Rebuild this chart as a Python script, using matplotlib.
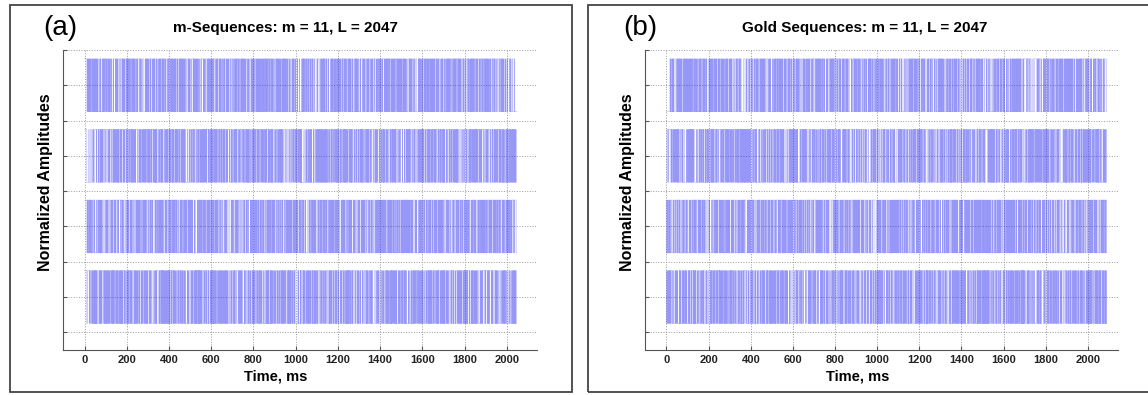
import numpy as np
import matplotlib
matplotlib.use('Agg')
import matplotlib.pyplot as plt
from matplotlib.patches import Rectangle

plt.rcParams['font.family'] = ['Liberation Sans', 'DejaVu Sans']

# sequence parameters
m = 11
L = 2**m - 1
m_taps = [[11, 2], [11, 9], [11, 8, 5, 2], [11, 9, 6, 3]]   # primitive polynomials
gold_pair = [[11, 2], [11, 8, 5, 2]]                         # preferred pair
gold_shifts = [0, 317, 905, 1460]
chip_ms = [1.0, 1.021]
titles = ['m-Sequences: m = 11, L = 2047', 'Gold Sequences: m = 11, L = 2047']
labels = ['(a)', '(b)']
xticks = [0, 200, 400, 600, 800, 1000, 1200, 1400, 1600, 1800, 2000]
offsets = [7, 5, 3, 1]
amp = 0.75

def lfsr(taps, n=m, length=L):
    reg = [1]*n
    out = np.zeros(length, int)
    for i in range(length):
        out[i] = reg[-1]
        fb = 0
        for t in taps:
            fb ^= reg[t-1]
        reg = [fb] + reg[:-1]
    return out

mseq = [lfsr(t) for t in m_taps]
g1 = lfsr(gold_pair[0])
g2 = lfsr(gold_pair[1])
gold = [g1 ^ np.roll(g2, s) for s in gold_shifts]

fig = plt.figure(figsize=(11.48, 3.95), dpi=100)
W, H = 1148., 395.

# outer frames (right one runs off the page)
for x0, x1 in [(10, 572), (588, 1154)]:
    fig.patches.append(Rectangle((x0/W, 1-392/H), (x1-x0)/W, 387/H, transform=fig.transFigure,
                                 fill=False, edgecolor='#444444', linewidth=1.3))

axes_pos = [[63/W, 1-350/H, 474/W, 300/H], [645/W, 1-350/H, 473/W, 300/H]]
label_x = [60, 640]
title_x = [285, 865]

for k, seqs in enumerate([mseq, gold]):
    ax = fig.add_axes(axes_pos[k])
    for s, off in zip(seqs, offsets):
        t = np.arange(L+1)*chip_ms[k]
        y = off + amp*(2*np.append(s, s[-1]) - 1)
        ax.step(t, y, where='post', color='#3030f0', linewidth=0.3, alpha=0.5)
    ax.set_xlim(-102, 2143)
    ax.set_ylim(-0.5, 8)
    ax.set_xticks(xticks)
    ax.set_xticklabels([str(v) for v in xticks], fontsize=8, fontweight='bold', color='#222222')
    ax.set_yticks(range(9))
    ax.set_yticklabels([])
    ax.tick_params(direction='in', length=3, color='#555555')
    ax.grid(True, linestyle=':', color='#999999', linewidth=0.7)
    ax.spines['top'].set_visible(False)
    ax.spines['right'].set_visible(False)
    ax.spines['left'].set_color('#555555')
    ax.spines['bottom'].set_color('#555555')
    ax.set_xlabel('Time, ms', fontsize=10.5, fontweight='bold')
    ax.xaxis.set_label_coords(0.449, -0.065)
    ax.set_ylabel('Normalized Amplitudes', fontsize=11.5, fontweight='bold')
    ax.yaxis.set_label_coords(-0.022, 0.56)
    fig.text(title_x[k]/W, 1-28/H, titles[k], fontsize=11, fontweight='bold', ha='center', va='center')
    fig.text(label_x[k]/W, 1-28/H, labels[k], fontsize=20, ha='center', va='center')

plt.savefig('out.png', dpi=100)
